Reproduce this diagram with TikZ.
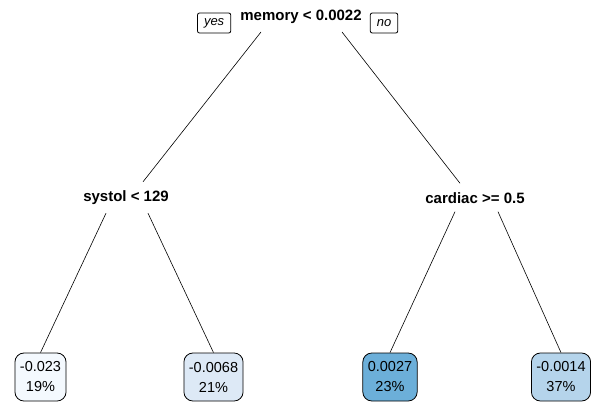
\documentclass[tikz,border=0pt]{standalone}
\usepackage{fontspec}
\setmainfont{Liberation Sans}
\usetikzlibrary{positioning}
\usetikzlibrary{calc}
\definecolor{fillA}{HTML}{F4F9FE}
\definecolor{fillB}{HTML}{DDE9F6}
\definecolor{fillC}{HTML}{6CAFD9}
\definecolor{fillD}{HTML}{B5D4EB}
\begin{document}
\begin{tikzpicture}[
        x=1pt, y=-1pt,
        split/.style={inner sep=1pt, font=\fontsize{15}{18}\selectfont\bfseries},
        tag/.style={draw, rounded corners=2pt, line width=0.8pt, minimum height=20pt, inner xsep=6.5pt, inner ysep=0pt, font=\fontsize{13}{15}\selectfont\itshape},
        leaf/.style={draw, rounded corners=9pt, line width=0.8pt, minimum height=48pt, inner xsep=5pt, align=center, font=\fontsize{14.5}{20}\selectfont},
        branch/.style={line width=0.6pt},
    ]
        \useasboundingbox (0,0) rectangle (591,407);
        \node[split] (memory) at (301,17) {memory < 0.0022};
        \node[tag, left = 8pt of memory, yshift=-6pt] (yes) {yes};
        \node[tag, right = 7pt of memory, yshift=-6pt] (no) {no};
        \node[split] (systol) at (126,198) {systol < 129};
        \node[split] (cardiac) at (475,198) {cardiac >= 0.5};
        \node[leaf, fill=fillA] (leafA) at (40.5,377) {-0.023\\19\%};
        \node[leaf, fill=fillB] (leafB) at (213.5,377) {-0.0068\\21\%};
        \node[leaf, fill=fillC] (leafC) at (390,377) {0.0027\\23\%};
        \node[leaf, fill=fillD] (leafD) at (561,377) {-0.0014\\37\%};

        \draw[branch] ([shift={(-40pt,-7pt)}]memory.south) -- ([shift={(17pt,8pt)}]systol.north);
        \draw[branch] ([shift={(41pt,-7pt)}]memory.south) -- ([shift={(-15pt,8pt)}]cardiac.north);
        \draw[branch] ([shift={(-20pt,-7pt)}]systol.south) -- (leafA.north);
        \draw[branch] ([shift={(22pt,-7pt)}]systol.south) -- (leafB.north);
        \draw[branch] ([shift={(-20pt,-7pt)}]cardiac.south) -- (leafC.north);
        \draw[branch] ([shift={(23pt,-7pt)}]cardiac.south) -- (leafD.north);
    \end{tikzpicture}
\end{document}
